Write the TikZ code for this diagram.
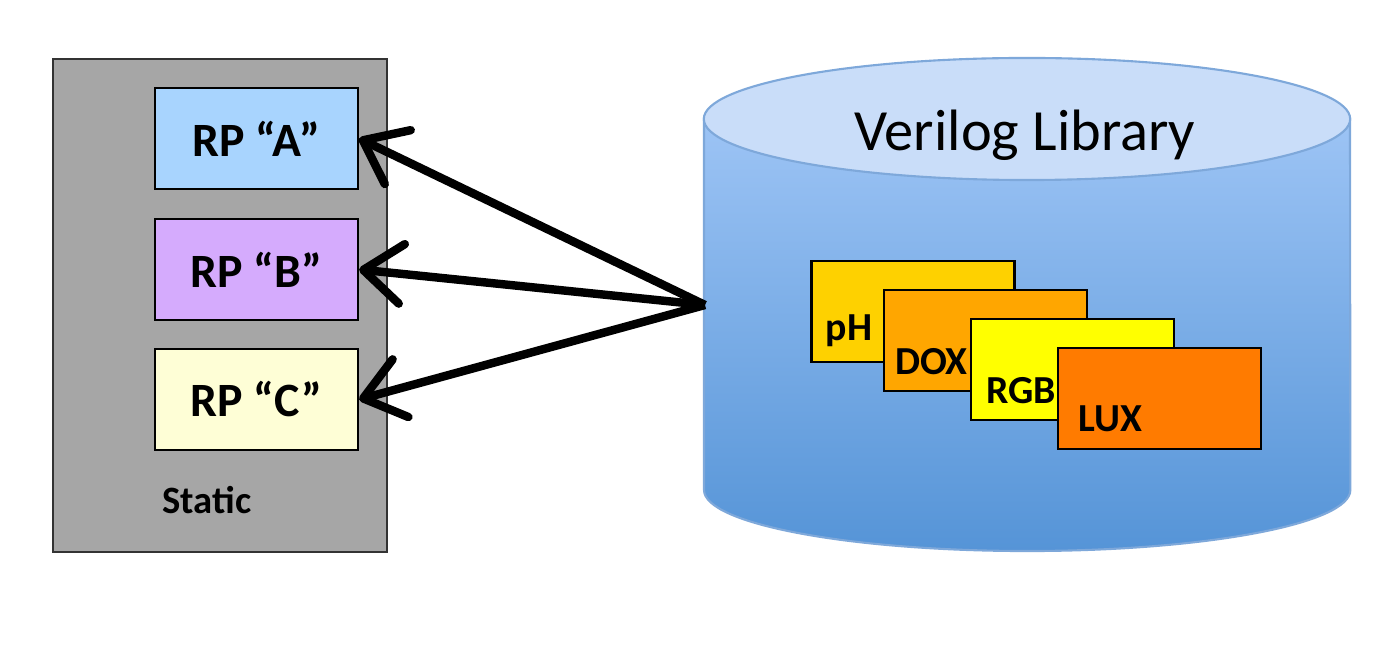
\documentclass[tikz,border=0pt]{standalone}
\usepackage{fontspec}
\setmainfont{Carlito}
\usepackage{tikz}
\usetikzlibrary{arrows.meta,calc}
\definecolor{staticgray}{HTML}{A6A6A6}
\definecolor{rpa}{HTML}{A8D4FE}
\definecolor{rpb}{HTML}{D5ABFD}
\definecolor{rpc}{HTML}{FEFED6}
\definecolor{phcol}{HTML}{FED100}
\definecolor{doxcol}{HTML}{FFA600}
\definecolor{rgbcol}{HTML}{FFFF00}
\definecolor{luxcol}{HTML}{FF7B00}
\definecolor{cyllid}{HTML}{C9DDF9}
\definecolor{cyltop}{HTML}{9DC4F5}
\definecolor{cylbot}{HTML}{5594D7}
\definecolor{cylline}{HTML}{7EA8DA}
\tikzstyle{staticbox}=[draw=black!80,fill=staticgray,line width=0.6pt,minimum width=3.34cm,minimum height=4.93cm,inner sep=0pt]
\tikzstyle{rpbox}=[draw=black,line width=0.6pt,minimum width=2.03cm,minimum height=1.01cm,inner sep=0pt,font=\bfseries\fontsize{13.6pt}{16pt}\selectfont]
\tikzstyle{card}=[draw=black,line width=0.7pt,minimum width=2.03cm,minimum height=1.01cm,inner sep=0pt]
\tikzstyle{cardlbl}=[inner sep=0pt,anchor=base west,font=\bfseries\fontsize{11.3pt}{14pt}\selectfont]

\begin{document}
\begin{tikzpicture}[x=0.01cm,y=-0.01cm]
  \useasboundingbox (0,0) rectangle (1390,658);
  \tikzset{edge/.style = {line width=2.4pt,-{Straight Barb[length=11pt,width=17pt,round]}}}
  % static region with the three RPs
  \node[staticbox] (static) at (220,305.5) {};
  \node[rpbox,fill=rpa] (rpA) at (256.5,138.5) {RP “A”};
  \node[rpbox,fill=rpb] (rpB) at (256.5,269.5) {RP “B”};
  \node[rpbox,fill=rpc] (rpC) at (256.5,399.5) {RP “C”};
  \node[font=\bfseries\fontsize{11pt}{13pt}\selectfont] (stat) at (207,500) {Static};
  % library cylinder
  \shade[top color=cyltop,bottom color=cylbot,draw=cylline,line width=0.6pt] (704,119) -- (704,490)
    arc[start angle=180,end angle=360,x radius=3.23cm,y radius=0.61cm] -- (1350,119) -- cycle;
  \draw[cylline,fill=cyllid,line width=0.6pt] (1027,119) ellipse [x radius=3.23cm,y radius=0.61cm];
  \node[font=\fontsize{16.6pt}{19pt}\selectfont] (lib) at (1025,135) {Verilog Library};
  % modules
  \node[card,fill=phcol] (ph) at (913,311.5) {};
  \node[cardlbl] (phlbl) at ($(ph.north west)+(15,81)$) {pH};
  \node[card,fill=doxcol] (dox) at (985.5,340.5) {};
  \node[cardlbl] (doxlbl) at ($(dox.north west)+(12,86)$) {DOX};
  \node[card,fill=rgbcol] (rgb) at (1072.5,369.5) {};
  \node[cardlbl] (rgblbl) at ($(rgb.north west)+(16,86)$) {RGB};
  \node[card,fill=luxcol] (lux) at (1159.5,398.5) {};
  \node[cardlbl] (luxlbl) at ($(lux.north west)+(21,85)$) {LUX};
  % connections
  \coordinate (src) at (705,305);
  \draw[edge] (src) to (rpA.east);
  \draw[edge] (src) to (rpB.east);
  \draw[edge] (src) to (rpC.east);
\end{tikzpicture}
\end{document}
